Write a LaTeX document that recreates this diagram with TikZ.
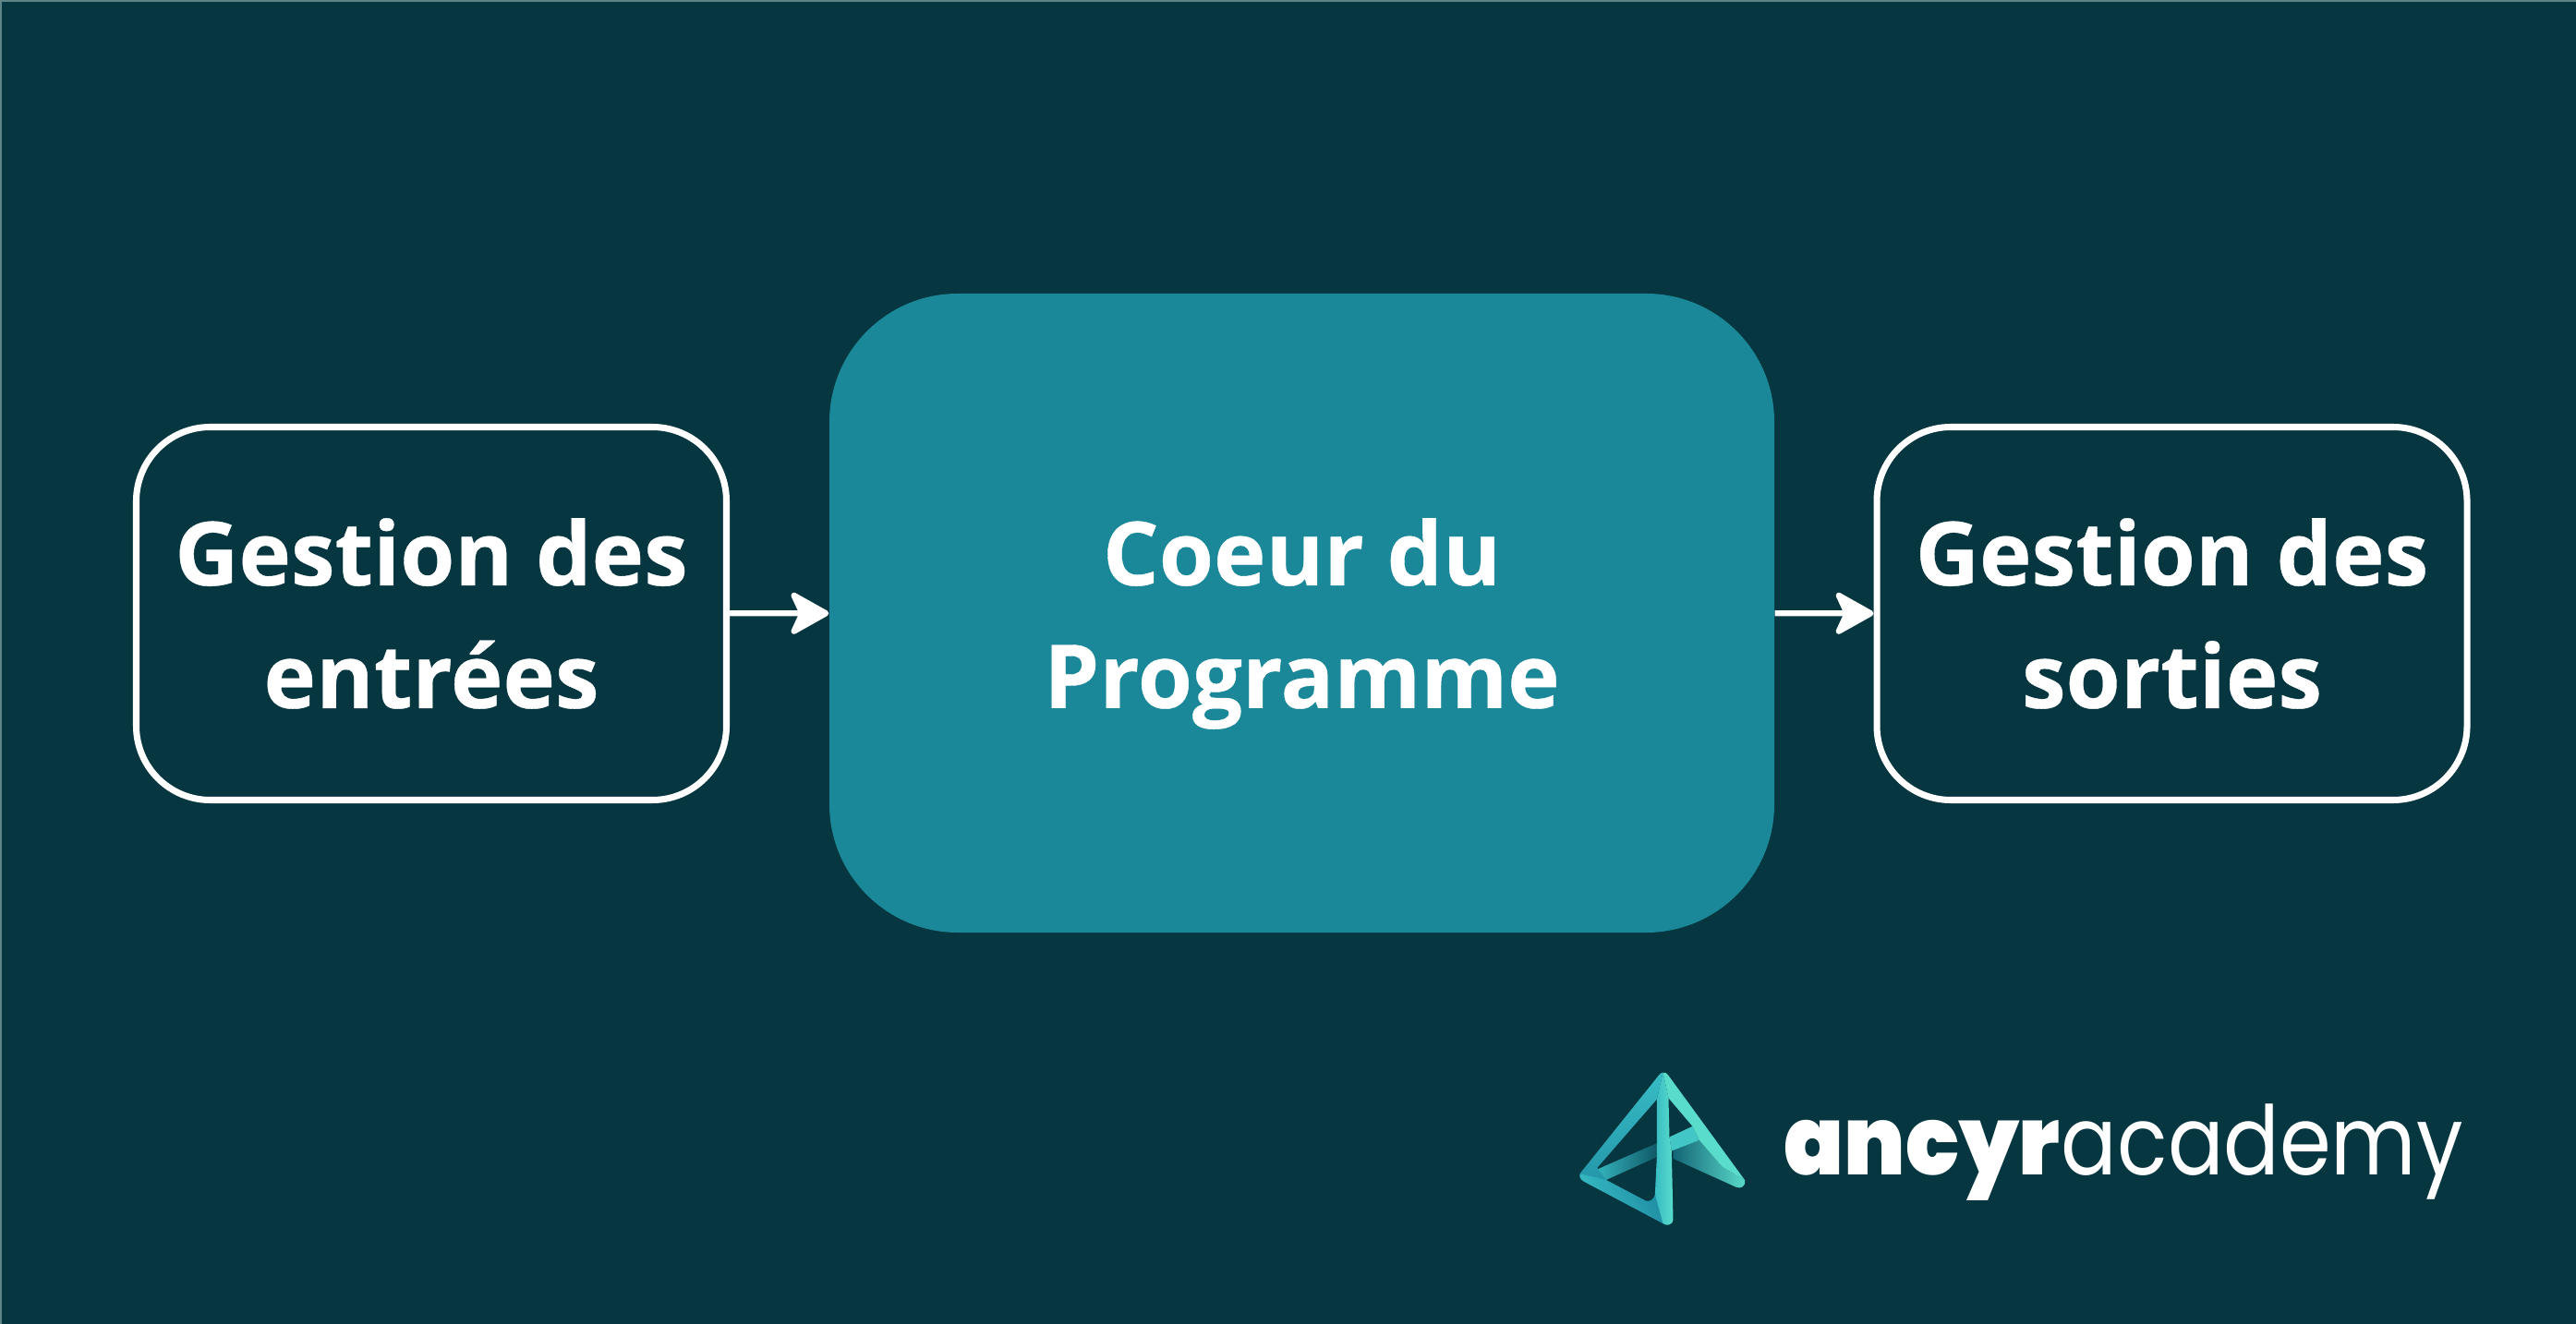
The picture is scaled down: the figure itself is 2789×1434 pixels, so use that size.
\documentclass[tikz,border=0pt]{standalone}
\usepackage{fontspec}
\usetikzlibrary{arrows.meta}
\setmainfont{Open Sans}
\newfontfamily\boxfont[FakeBold=0.4]{Open Sans Bold}
\newfontfamily\logoheavy[FakeStretch=0.92]{Poppins Black}
\newfontfamily\logolight[FakeStretch=0.865]{Poppins}
\definecolor{bgteal}{HTML}{06363F}
\definecolor{coreteal}{HTML}{1A8898}
\definecolor{edgeline}{HTML}{5F8488}
\definecolor{logoA}{HTML}{5ADCCB}
\definecolor{logoB}{HTML}{37BCC4}
\definecolor{logoC}{HTML}{1F8CA3}
\newlength{\pxu}\setlength{\pxu}{0.01cm}
\newcommand{\boxsize}{\fontsize{27.2pt}{37.8pt}\selectfont}
\tikzset{
  pxgrid/.style={x=0.01cm,y=-0.01cm},
  sidebox/.style={draw=white,line width=2pt,rounded corners=22.8pt,minimum width=639\pxu,minimum height=404\pxu,inner sep=0pt,align=center,text=white,font=\boxfont\boxsize},
  corebox/.style={fill=coreteal,rounded corners=39.5pt,minimum width=1023\pxu,minimum height=692\pxu,inner sep=0pt,align=center,text=white,font=\boxfont\boxsize},
  flow/.style={draw=white,line width=1.8pt,-{Stealth[length=13.5pt,width=15pt,inset=3.4pt,round]}}
}
\begin{document}
\begin{tikzpicture}[pxgrid]
\useasboundingbox (0,0) rectangle (2789,1434);
\fill[bgteal] (0,0) rectangle (2789,1434);
\draw[edgeline,line width=0.5pt] (1,1434) -- (1,1) -- (2789,1);
\node[sidebox] (entrees) at (467,664.5) {Gestion des\\entrées};
\node[corebox] (coeur) at (1409.5,664) {Coeur du\\\raisebox{0pt}[\height][0pt]{Programme}};
\node[sidebox] (sorties) at (2351.5,664.5) {Gestion des\\sorties};
\draw[flow] (entrees) -- (coeur);
\draw[flow] (coeur) -- (sorties);
% logo
\begin{scope}[shift={(1680,1140)},x=0.00333333cm,y=-0.00333333cm]
  \shade[left color=logoC!55!bgteal,middle color=logoB,right color=logoA]
    (395,310) -- (480,285) -- (555,372) -- (628,415) .. controls (632,435) and (615,445) .. (600,438) -- (395,345) -- cycle;
  \fill[logoA] (362,65) .. controls (370,63) and (375,68) .. (380,75) -- (628,415) -- (555,372) -- (480,285) -- (458,240) -- (380,148) -- cycle;
  \fill[logoB!70!logoA] (383,275) -- (458,240) -- (480,285) -- (390,320) -- cycle;
  \shade[left color=logoB,right color=logoC!40!bgteal]
    (130,388) -- (342,295) -- (342,340) -- (165,420) -- cycle;
  \shade[top color=logoB,bottom color=logoC!80!logoB,shading angle=0]
    (362,65) -- (342,152) -- (148,375) -- (178,415) -- (130,430) -- (100,415) .. controls (88,408) and (88,398) .. (95,390) -- (350,72) .. controls (354,67) and (358,65) .. (362,65) -- cycle;
  \shade[left color=logoB,right color=logoC,shading angle=115]
    (95,395) -- (178,415) -- (305,482) .. controls (320,487) and (332,478) .. (336,462) -- (365,558) -- (105,420) .. controls (95,415) and (90,405) .. (95,395) -- cycle;
  \shade[left color=logoB,right color=logoA]
    (362,65) -- (380,148) -- (383,275) -- (390,320) -- (395,542) .. controls (395,562) and (372,566) .. (362,556) -- (336,462) -- (342,340) -- (342,152) -- cycle;
\end{scope}
\node[anchor=base west,inner sep=0pt,text=white] (ancyr) at (1931,1272) {\fontsize{29.5pt}{30pt}\logoheavy ancyr};
\node[anchor=base west,inner sep=0pt,text=white] (academy) at (ancyr.base east) {\fontsize{29.5pt}{30pt}\logolight academy};
\end{tikzpicture}
\end{document}
